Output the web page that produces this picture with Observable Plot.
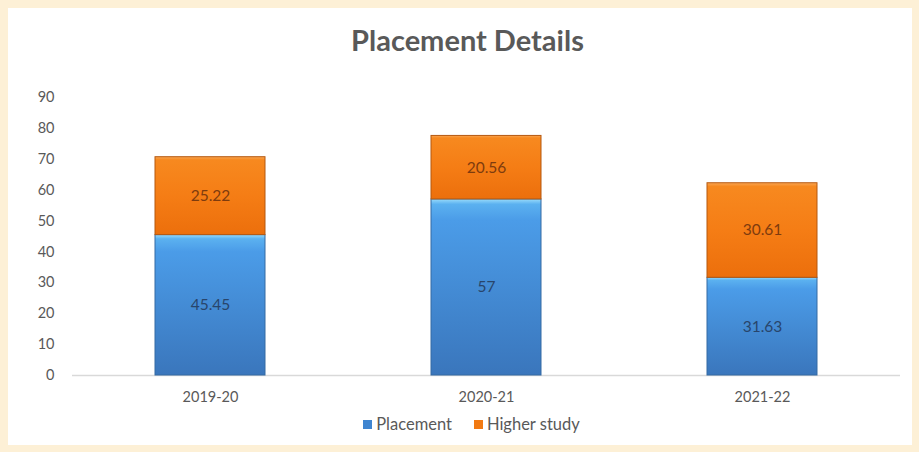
<!DOCTYPE html>
<html><head><meta charset="utf-8">
<script src="https://cdn.jsdelivr.net/npm/d3@7"></script>
<script src="https://cdn.jsdelivr.net/npm/@observablehq/plot@0.6"></script>
<style>
body{margin:0;background:#fdf0d6;width:919px;height:452px;overflow:hidden;font-family:Lato,"Open Sans",sans-serif;}
#panel{position:absolute;left:8px;top:8px;width:904px;height:437px;background:#fff;}
#title{position:absolute;left:8px;top:22px;width:919px;text-align:center;font-size:29px;font-weight:bold;color:#595959;}
#chart{position:absolute;left:0;top:70px;}
#legend{position:absolute;left:12px;top:414px;width:919px;text-align:center;font-size:16.5px;color:#595959;}
#legend span.sw{display:inline-block;width:9px;height:9px;margin-right:4px;vertical-align:1px;}
#legend span.it{margin:0 11px;}
</style></head>
<body>
<div id="panel"></div>
<div id="title">Placement Details</div>
<div id="chart"></div>
<div id="legend"></div>
<script>
const years = ["2019-20", "2020-21", "2021-22"];
const seriesNames = ["Placement", "Higher study"];
const placement = [45.45, 57, 31.63];
const higherStudy = [25.22, 20.56, 30.61];
const yTicks = [0, 10, 20, 30, 40, 50, 60, 70, 80, 90];

const data = [];
years.forEach((y, i) => data.push({year: y, series: seriesNames[0], value: placement[i]}));
years.forEach((y, i) => data.push({year: y, series: seriesNames[1], value: higherStudy[i]}));

const fills = ["url(#gBlue)", "url(#gOrange)"];
const strokes = ["#356aa3", "#b5580f"];
const labelColors = ["#28456b", "#7e3b0e"];

const plot = Plot.plot({
  width: 919,
  height: 340,
  marginLeft: 72,
  marginRight: 19,
  marginTop: 27,
  marginBottom: 35,
  style: {fontFamily: "Lato, 'Open Sans', sans-serif", fontSize: "14.5px", color: "#595959", background: "transparent"},
  x: {domain: years, paddingInner: 0.6, paddingOuter: 0.3, label: null, tickSize: 0, tickPadding: 16},
  y: {domain: [0, 90], ticks: yTicks, label: null, tickSize: 0, tickPadding: 18},
  color: {domain: seriesNames, range: fills},
  marks: [
    Plot.ruleY([0], {stroke: "#d9d9d9", strokeWidth: 1.5}),
    Plot.barY(data, Plot.stackY({x: "year", y: "value", fill: "series",
      stroke: d => strokes[seriesNames.indexOf(d.series)], strokeWidth: 1, inset: 0})),
    Plot.text(data, Plot.stackY({x: "year", y: "value", text: d => String(d.value),
      fill: d => labelColors[seriesNames.indexOf(d.series)], fontSize: 15.5}))
  ]
});
document.getElementById("chart").appendChild(plot);

const svg = d3.select(plot);
const defs = svg.insert("defs", ":first-child");
const gb = defs.append("linearGradient").attr("id", "gBlue").attr("x1", 0).attr("y1", 0).attr("x2", 0).attr("y2", 1);
[["0%", "#9adcfb"], ["3%", "#5bb1f0"], ["12%", "#4b9ce8"], ["100%", "#3a76bc"]].forEach(([o, c]) => gb.append("stop").attr("offset", o).attr("stop-color", c));
const go = defs.append("linearGradient").attr("id", "gOrange").attr("x1", 0).attr("y1", 0).attr("x2", 0).attr("y2", 1);
[["0%", "#f9a654"], ["4%", "#f7891f"], ["50%", "#f57d15"], ["100%", "#ec6f0c"]].forEach(([o, c]) => go.append("stop").attr("offset", o).attr("stop-color", c));

const swatchColors = ["#3f85d0", "#f27a12"];
const leg = document.getElementById("legend");
seriesNames.forEach((n, i) => {
  const it = document.createElement("span");
  it.className = "it";
  const sw = document.createElement("span");
  sw.className = "sw";
  sw.style.background = swatchColors[i];
  it.appendChild(sw);
  it.appendChild(document.createTextNode(n));
  leg.appendChild(it);
});
</script>
</body></html>
